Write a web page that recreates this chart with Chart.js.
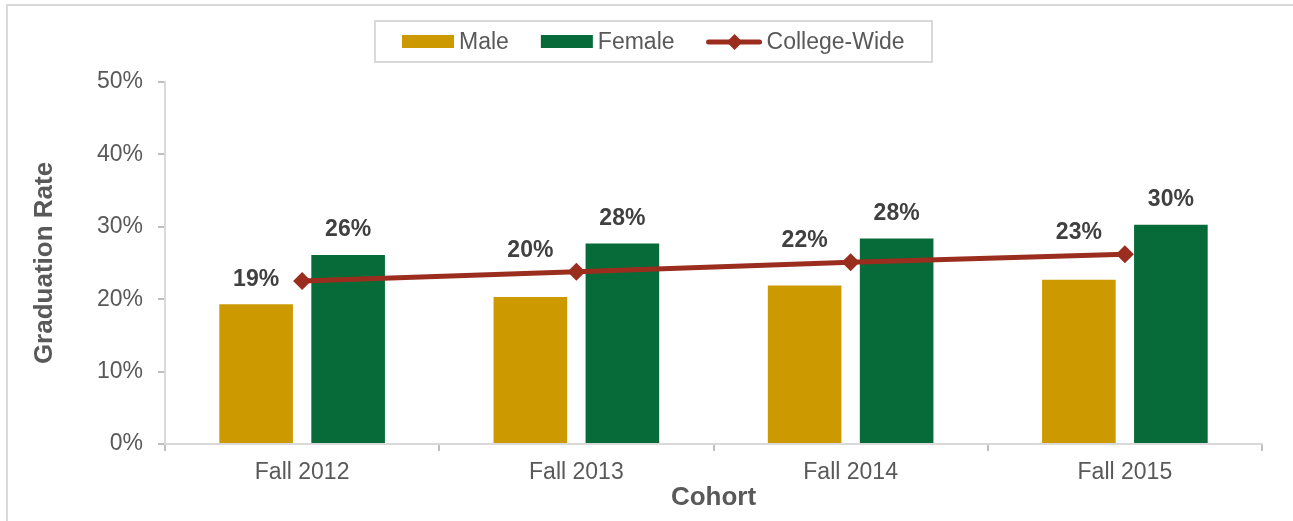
<!DOCTYPE html>
<html>
<head>
<meta charset="utf-8">
<script src="https://cdn.jsdelivr.net/npm/chart.js@4.4.0/dist/chart.umd.min.js"></script>
<style>
  html, body { margin: 0; padding: 0; background: #fff; }
  #wrap { width: 1293px; height: 521px; position: relative; }
</style>
</head>
<body>
<div id="wrap"><canvas id="gradChart" width="1293" height="521"></canvas></div>
<script>
const cohorts = ['Fall 2012', 'Fall 2013', 'Fall 2014', 'Fall 2015'];
const maleRates = [19.3, 20.3, 21.9, 22.7];
const femaleRates = [26.1, 27.7, 28.4, 30.3];
const collegeWide = [22.5, 23.8, 25.1, 26.2];
const yTicks = [0, 10, 20, 30, 40, 50];

const FONT = "'Liberation Sans', Arial, sans-serif";
const GREY_TEXT = '#595959';
const AXIS_GREY = '#d9d9d9';

// value labels above the bars, lifted over the line where they would cross it
const barLabels = {
  id: 'barLabels',
  afterDatasetsDraw(chart) {
    const ctx = chart.ctx;
    const lineIdx = chart.data.datasets.findIndex(d => d.type === 'line');
    const pts = chart.getDatasetMeta(lineIdx).data;
    const lineYAt = x => {
      for (let k = 0; k < pts.length - 1; k++) {
        const a = pts[k], b = pts[k + 1];
        if (x >= a.x && x <= b.x) return a.y + (b.y - a.y) * (x - a.x) / (b.x - a.x);
      }
      return null;
    };
    ctx.save();
    ctx.font = 'bold 23px ' + FONT;
    ctx.fillStyle = '#404040';
    ctx.textAlign = 'center';
    ctx.textBaseline = 'middle';
    chart.data.datasets.forEach((ds, i) => {
      if (ds.type === 'line') return;
      chart.getDatasetMeta(i).data.forEach((bar, j) => {
        let y = bar.y - 25;
        const ly = lineYAt(bar.x);
        if (ly !== null && Math.abs(y - ly) < 20) y = ly - 23;
        ctx.fillText(Math.round(ds.data[j]) + '%', bar.x, y);
      });
    });
    ctx.restore();
  }
};

// frame lines and boxed legend
const frameAndLegend = {
  id: 'frameAndLegend',
  beforeDraw(chart) {
    const ctx = chart.ctx;
    ctx.save();
    ctx.strokeStyle = AXIS_GREY;
    ctx.lineWidth = 2;
    ctx.beginPath();
    ctx.moveTo(7, chart.height);
    ctx.lineTo(7, 5);
    ctx.lineTo(chart.width, 5);
    ctx.stroke();
    ctx.restore();
  },
  afterDraw(chart) {
    const ctx = chart.ctx;
    const box = { left: 375, top: 21, right: 932, bottom: 62 };
    const midY = 43;
    ctx.save();
    ctx.strokeStyle = AXIS_GREY;
    ctx.lineWidth = 2;
    ctx.strokeRect(box.left, box.top, box.right - box.left, box.bottom - box.top);
    ctx.font = '23px ' + FONT;
    ctx.textBaseline = 'middle';
    ctx.textAlign = 'left';
    let x = 402;
    chart.data.datasets.forEach(ds => {
      if (ds.type === 'line') {
        ctx.strokeStyle = ds.borderColor;
        ctx.lineWidth = 5;
        ctx.lineCap = 'round';
        ctx.beginPath();
        ctx.moveTo(x + 2, midY - 1);
        ctx.lineTo(x + 53, midY - 1);
        ctx.stroke();
        ctx.fillStyle = ds.borderColor;
        ctx.beginPath();
        ctx.moveTo(x + 28, midY - 9);
        ctx.lineTo(x + 36, midY - 1);
        ctx.lineTo(x + 28, midY + 7);
        ctx.lineTo(x + 20, midY - 1);
        ctx.closePath();
        ctx.fill();
        x += 60;
      } else {
        ctx.fillStyle = ds.backgroundColor;
        ctx.fillRect(x, midY - 8, 52, 13);
        x += 57;
      }
      ctx.fillStyle = GREY_TEXT;
      ctx.fillText(ds.label, x, midY);
      x += ctx.measureText(ds.label).width + 32;
    });
    ctx.restore();
  }
};

const ctx = document.getElementById('gradChart').getContext('2d');
const gradChart = new Chart(ctx, {
  data: {
    labels: cohorts,
    datasets: [
      {
        type: 'bar',
        label: 'Male',
        data: maleRates,
        backgroundColor: '#CC9900',
        categoryPercentage: 0.671,
        barPercentage: 0.8,
        order: 1
      },
      {
        type: 'bar',
        label: 'Female',
        data: femaleRates,
        backgroundColor: '#066B38',
        categoryPercentage: 0.671,
        barPercentage: 0.8,
        order: 2
      },
      {
        type: 'line',
        label: 'College-Wide',
        data: collegeWide,
        borderColor: '#9B2D1F',
        backgroundColor: '#9B2D1F',
        borderWidth: 5,
        pointStyle: 'rectRot',
        pointRadius: 9,
        pointBorderWidth: 0,
        tension: 0,
        order: 0
      }
    ]
  },
  options: {
    responsive: false,
    animation: false,
    devicePixelRatio: 1,
    layout: { padding: { top: 82, left: 29, right: 31, bottom: 10 } },
    plugins: {
      legend: { display: false },
      tooltip: { enabled: false }
    },
    scales: {
      x: {
        afterFit: scale => { scale.height = 67; },
        grid: {
          drawOnChartArea: false,
          drawTicks: true,
          tickLength: 7,
          color: '#bfbfbf',
          lineWidth: 2
        },
        border: { color: AXIS_GREY, width: 2 },
        ticks: {
          color: GREY_TEXT,
          font: { family: FONT, size: 23, lineHeight: 1 },
          padding: 10,
          maxRotation: 0
        },
        title: {
          display: true,
          text: 'Cohort',
          color: GREY_TEXT,
          font: { family: FONT, size: 26, weight: 'bold', lineHeight: 1 },
          padding: { top: 0, bottom: 0 }
        }
      },
      y: {
        min: 0,
        max: 50,
        afterBuildTicks: scale => {
          scale.ticks = yTicks.map(v => ({ value: v }));
        },
        afterFit: scale => { scale.width = 136; },
        grid: {
          drawOnChartArea: false,
          drawTicks: true,
          tickLength: 7,
          color: '#bfbfbf',
          lineWidth: 2
        },
        border: { color: AXIS_GREY, width: 2 },
        ticks: {
          color: GREY_TEXT,
          font: { family: FONT, size: 23 },
          padding: 15,
          callback: value => value + '%'
        },
        title: {
          display: true,
          text: 'Graduation Rate',
          color: GREY_TEXT,
          font: { family: FONT, size: 26, weight: 'bold' },
          padding: { top: 0, bottom: 0 }
        }
      }
    }
  },
  plugins: [barLabels, frameAndLegend]
});
</script>
</body>
</html>
